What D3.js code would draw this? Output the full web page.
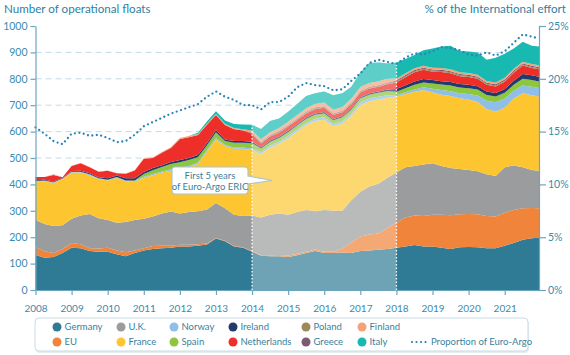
<!DOCTYPE html>
<html><head><meta charset="utf-8">
<script src="https://cdn.jsdelivr.net/npm/d3@7"></script>
<style>body{margin:0;background:#fff;} svg{display:block;font-family:Lato,'Open Sans',sans-serif;}</style>
</head><body><svg id="c" width="570" height="355"></svg>
<script>
const years = [2008,2008.25,2008.5,2008.75,2009,2009.25,2009.5,2009.75,2010,2010.25,2010.5,2010.75,2011,2011.25,2011.5,2011.75,2012,2012.25,2012.5,2012.75,2013,2013.25,2013.5,2013.75,2014,2014.25,2014.5,2014.75,2015,2015.25,2015.5,2015.75,2016,2016.25,2016.5,2016.75,2017,2017.25,2017.5,2017.75,2018,2018.25,2018.5,2018.75,2019,2019.25,2019.5,2019.75,2020,2020.25,2020.5,2020.75,2021,2021.25,2021.5,2021.75,2021.95];
const germany = [133,122,125,140,160,158,148,145,145,135,128,140,150,155,158,160,165,165,168,172,195,185,165,160,145,130,128,128,125,132,140,148,140,140,142,140,148,150,152,155,160,165,170,165,165,160,155,162,163,162,158,158,168,178,190,196,198];
const eu = [30,25,15,15,18,15,10,12,15,15,15,10,8,12,10,8,6,6,5,4,2,2,2,2,2,3,4,5,6,5,5,5,5,5,15,40,55,60,62,80,95,110,112,115,120,125,128,125,125,125,122,120,125,125,120,115,112];
const uk = [102,103,102,90,92,109,130,115,105,105,115,115,112,111,122,129,119,124,125,129,133,123,118,118,135,142,153,157,154,158,158,145,158,155,143,160,169,182,188,190,190,190,188,195,195,185,179,171,167,163,158,154,172,169,155,144,142];
const france = [145,162,163,175,175,163,147,148,150,170,154,145,155,157,155,155,168,170,180,220,240,235,250,255,248,240,255,265,290,305,322,342,342,320,330,320,328,323,320,303,288,277,281,283,268,270,273,268,267,262,247,244,225,253,280,283,281];
const norway = [3,3,3,2,3,3,3,3,3,3,3,3,4,4,4,5,5,5,5,5,6,5,5,5,6,7,7,7,8,8,8,9,9,9,9,9,10,10,10,10,6,7,8,10,14,18,18,19,20,25,32,35,35,30,30,32,32];
const spain = [0,0,0,0,0,0,0,0,0,0,0,2,10,15,17,20,21,22,20,18,22,14,18,18,20,14,14,14,15,15,15,15,15,14,14,14,15,15,15,15,12,15,18,18,20,20,22,22,22,22,22,22,22,22,25,25,25];
const ireland = [3,3,3,2,3,4,4,4,5,6,8,8,8,8,7,8,8,8,8,8,8,6,6,6,6,5,5,5,5,5,5,5,5,5,5,5,5,5,5,6,10,12,13,13,13,13,13,13,13,13,13,13,14,16,18,18,18];
const netherlands = [12,10,25,3,19,28,23,21,29,8,17,30,50,38,47,53,80,79,76,70,57,55,45,40,30,14,15,15,16,16,16,16,16,15,15,16,18,18,18,20,25,30,35,35,32,35,33,30,30,28,25,25,28,30,32,28,28];
const poland = [0,0,0,0,0,0,0,0,0,0,0,0,0,0,0,0,0,0,0,0,1,1,1,1,2,3,3,3,3,3,3,3,3,3,3,3,3,3,3,3,4,4,4,4,4,4,4,4,4,4,4,4,4,4,4,4,4];
const greece = [0,0,0,0,0,0,0,0,0,0,0,0,0,0,0,0,0,0,0,0,0,0,0,0,2,3,3,3,3,3,3,3,3,3,3,3,3,3,3,3,4,4,4,4,4,4,4,4,4,4,4,4,4,4,4,4,4];
const finland = [0,0,2,0,0,2,1,1,1,1,1,2,2,2,3,3,4,4,4,4,3,4,4,4,8,10,11,12,12,13,13,14,14,14,14,14,15,15,15,15,7,7,7,7,7,7,7,7,7,7,7,7,7,7,7,7,7];
const italy = [0,0,0,0,0,0,0,0,0,0,0,0,0,0,0,0,0,0,5,8,10,12,15,18,22,39,42,36,38,42,47,40,42,55,52,46,56,76,71,58,61,54,50,59,73,81,89,80,81,85,80,94,91,77,75,69,71];
const proportion = [15.4,14.8,14.1,13.8,14.8,14.9,14.6,14.7,14.4,14.0,14.1,14.7,15.5,15.9,16.3,16.7,17.0,17.3,17.6,18.3,18.8,18.3,18.0,17.5,17.5,17.1,17.8,17.8,18.3,19.2,19.6,19.4,19.3,18.9,19.0,19.8,20.5,21.5,21.8,21.6,21.4,22.0,22.4,22.3,22.6,23.0,22.9,22.7,22.3,22.2,22.5,22.2,22.6,23.4,24.2,24.0,23.8];
const leftTicks = [0,100,200,300,400,500,600,700,800,900,1000];
const rightTicks = [0,5,10,15,20,25];
const yearTicks = [2008,2009,2010,2011,2012,2013,2014,2015,2016,2017,2018,2019,2020,2021];
const ericStart = 2014, ericEnd = 2018;

const keys = ["Germany","EU","U.K.","France","Norway","Spain","Ireland","Netherlands","Poland","Greece","Finland","Italy"];
const seriesArrays = [germany,eu,uk,france,norway,spain,ireland,netherlands,poland,greece,finland,italy];
const colors = {"Germany":"#2f7b96","EU":"#f0843a","U.K.":"#9b9c9d","France":"#fdc631","Norway":"#8fbfe8","Spain":"#8dc63f","Ireland":"#243a6c","Netherlands":"#ee2e29","Poland":"#9c8a5b","Greece":"#7c5b6e","Finland":"#f5a27a","Italy":"#17b9b1"};

const rows = years.map((yr,i)=>{const r={year:yr}; keys.forEach((k,j)=>r[k]=seriesArrays[j][i]); r.prop=proportion[i]; return r;});

const svg = d3.select("#c");
const x = d3.scaleLinear().domain([2008,2021.95]).range([35.5,539]);
const y = d3.scaleLinear().domain([0,1000]).range([290,26]);
const y2 = d3.scaleLinear().domain([0,25]).range([290,26]);
const axisCol = "#6aa6bf", textCol = "#3a8bae";

svg.append("g").selectAll("line").data(leftTicks.filter(v=>v>0&&v<1000)).join("line")
  .attr("x1",x(2008)).attr("x2",x(2021.95)).attr("y1",d=>y(d)).attr("y2",d=>y(d))
  .attr("stroke","#c3dbe6").attr("stroke-width",1).attr("stroke-dasharray","6,4");

const stacked = d3.stack().keys(keys)(rows);
const area = d3.area().x(d=>x(d.data.year)).y0(d=>y(d[0])).y1(d=>y(d[1]));
svg.append("g").selectAll("path").data(stacked).join("path")
  .attr("d",area).attr("fill",d=>colors[d.key]);

const topLayer = stacked[stacked.length-1];
const ericPts = topLayer.filter(d=>d.data.year>=ericStart && d.data.year<=ericEnd);
svg.append("path").datum(ericPts)
  .attr("d",d3.area().x(d=>x(d.data.year)).y0(y(0)).y1(d=>y(d[1])))
  .attr("fill","#fff").attr("fill-opacity",0.3);
[ericStart,ericEnd].forEach(yr=>{
  const d = topLayer.find(p=>p.data.year===yr);
  svg.append("line").attr("x1",x(yr)).attr("x2",x(yr)).attr("y1",y(0)).attr("y2",y(d[1]))
    .attr("stroke","#fff").attr("stroke-width",1.3).attr("stroke-dasharray","1.5,2");
});

svg.append("path").datum(rows)
  .attr("d",d3.line().x(d=>x(d.year)).y(d=>y2(d.prop)))
  .attr("fill","none").attr("stroke","#2a84b6").attr("stroke-width",2.3)
  .attr("stroke-linecap","round").attr("stroke-dasharray","0,4.5");

function styleAxis(g){
  g.select(".domain").attr("stroke",axisCol).attr("stroke-width",1.2);
  g.selectAll(".tick line").attr("stroke",axisCol).attr("stroke-width",1.2);
  g.selectAll("text").attr("fill",textCol).style("font-family","Lato,'Open Sans',sans-serif");
}
svg.append("g").attr("transform","translate(35.5,0)")
  .call(d3.axisLeft(y).tickValues(leftTicks).tickFormat(d3.format("d")).tickSize(5).tickPadding(3).tickSizeOuter(0))
  .call(styleAxis).selectAll("text").style("font-size","10.5px");
svg.append("g").attr("transform","translate(539,0)")
  .call(d3.axisRight(y2).tickValues(rightTicks).tickSize(7).tickPadding(2).tickFormat(d=>d+"%").tickSizeOuter(0))
  .call(styleAxis).selectAll("text").style("font-size","10.5px");
svg.append("g").attr("transform","translate(0,290)")
  .call(d3.axisBottom(x).tickValues(yearTicks).tickFormat(d3.format("d")).tickSize(5).tickPadding(10).tickSizeOuter(0))
  .call(styleAxis).selectAll("text").style("font-size","10px");

svg.append("text").attr("x",4).attr("y",13).attr("fill","#2f7f9f").style("font-size","11.6px").text("Number of operational floats");
svg.append("text").attr("x",566).attr("y",13).attr("text-anchor","end").attr("fill","#2f7f9f").style("font-size","11.6px").text("% of the International effort");

const cb = svg.append("g");
cb.append("path").attr("d","M175,167 H245 Q248,167 248,170 V176 L272,180.5 L248,184 V191 Q248,194 245,194 H175 Q172,194 172,191 V170 Q172,167 175,167 Z")
  .attr("fill","#fff").attr("stroke","#a8c6d3").attr("stroke-width",1.2);
cb.append("text").attr("x",210).attr("y",179).attr("text-anchor","middle").attr("fill","#3b7f9b").style("font-size","9.5px").text("First 5 years");
cb.append("text").attr("x",210).attr("y",190).attr("text-anchor","middle").attr("fill","#3b7f9b").style("font-size","9.5px").text("of Euro-Argo ERIC");

const lg = svg.append("g");
lg.append("rect").attr("x",36).attr("y",320).attr("width",493).attr("height",33).attr("rx",4).attr("fill","#e6edf1");
lg.append("rect").attr("x",35).attr("y",318).attr("width",493).attr("height",33).attr("rx",4).attr("fill","#fff").attr("stroke","#c8dbe4").attr("stroke-width",1);
const colX = [57,121,174,233,306,362];
const rowsY = [327,342];
const order = [["Germany","U.K.","Norway","Ireland","Poland","Finland"],["EU","France","Spain","Netherlands","Greece","Italy"]];
order.forEach((row,ri)=>row.forEach((k,ci)=>{
  lg.append("circle").attr("cx",colX[ci]).attr("cy",rowsY[ri]).attr("r",4.5).attr("fill",colors[k]);
  lg.append("text").attr("x",colX[ci]+7.5).attr("y",rowsY[ri]+3.3).attr("fill","#3b7f9b").style("font-size","9.5px").text(k);
}));
lg.append("line").attr("x1",412).attr("x2",426).attr("y1",342).attr("y2",342).attr("stroke","#2a84b6").attr("stroke-width",2.2).attr("stroke-linecap","round").attr("stroke-dasharray","0,4.5");
lg.append("text").attr("x",431).attr("y",345.3).attr("fill","#3b7f9b").style("font-size","9.5px").text("Proportion of Euro-Argo");
</script></body></html>
